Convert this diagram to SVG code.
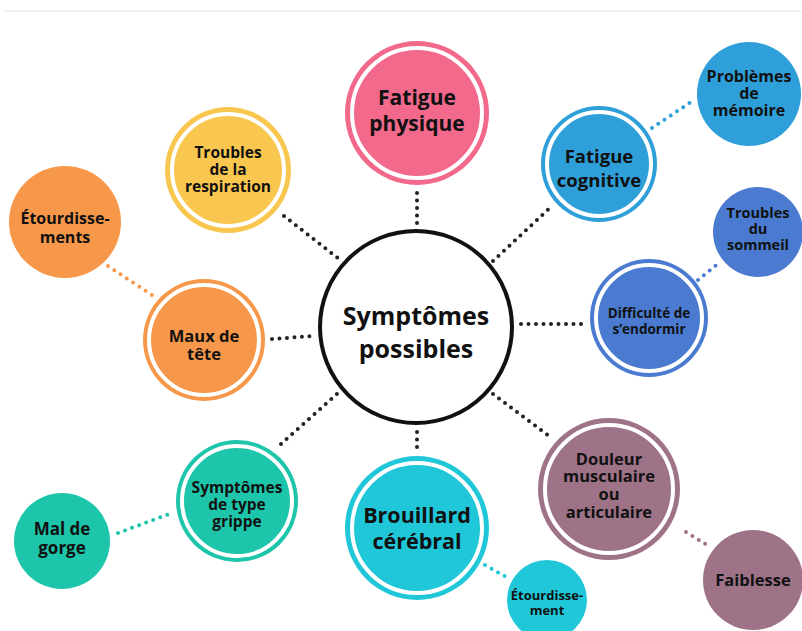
<svg xmlns="http://www.w3.org/2000/svg" width="802" height="631" viewBox="0 0 802 631">
<style>
text{font-family:"Open Sans","Noto Sans","Liberation Sans",sans-serif;font-weight:700;fill:#111;text-anchor:middle}
.ring{fill:none;stroke:#fff;stroke-width:4}
.dot{fill:none;stroke-width:4;stroke-linecap:round;stroke-dasharray:0 7.5}
.k{stroke:#222}
</style>
<rect width="802" height="631" fill="#fff"/>
<line x1="4" y1="11" x2="802" y2="11" stroke="#eeeeee" stroke-width="1.5"/>
<g id="connectors">
<line class="dot k" x1="417" y1="193" x2="417" y2="224"/>
<line class="dot k" x1="417" y1="432" x2="417" y2="453"/>
<line class="dot k" x1="521" y1="324" x2="584" y2="324"/>
<line class="dot k" x1="272" y1="339" x2="313" y2="336"/>
<line class="dot k" x1="284" y1="216" x2="339" y2="259"/>
<line class="dot k" x1="493" y1="261" x2="552" y2="206"/>
<line class="dot k" x1="493" y1="394" x2="553" y2="439"/>
<line class="dot k" x1="281" y1="444" x2="338" y2="393"/>
<line class="dot" stroke="#2F9FDA" x1="652" y1="128" x2="694" y2="100"/>
<line class="dot" stroke="#4A7BD0" x1="698" y1="280" x2="719" y2="263"/>
<line class="dot" stroke="#9E7388" x1="686" y1="532" x2="707" y2="545"/>
<line class="dot" stroke="#1FC7D8" x1="485" y1="565" x2="508" y2="578"/>
<line class="dot" stroke="#1DC5AA" x1="118" y1="533" x2="172" y2="513"/>
<line class="dot" stroke="#F7974A" x1="108" y1="266" x2="155" y2="297"/>
</g>
<g id="center">
<circle cx="416" cy="327" r="96" fill="#fff" stroke="#111" stroke-width="4"/>
<text x="416" y="325" font-size="25">Symptômes</text>
<text x="416" y="358" font-size="25">possibles</text>
</g>
<g id="fatigue-physique">
<circle cx="417" cy="113" r="72" fill="#F2698C"/>
<circle class="ring" cx="417" cy="113" r="65"/>
<text x="417" y="105" font-size="21">Fatigue</text>
<text x="417" y="131" font-size="21">physique</text>
</g>
<g id="fatigue-cognitive">
<circle cx="599" cy="164" r="58" fill="#2F9FDA"/>
<circle class="ring" cx="599" cy="164" r="52"/>
<text x="599" y="163" font-size="18.5">Fatigue</text>
<text x="599" y="187" font-size="18.5">cognitive</text>
</g>
<g id="problemes-memoire">
<circle cx="749" cy="94" r="52" fill="#2F9FDA"/>
<text x="749" y="82" font-size="16">Problèmes</text>
<text x="749" y="99" font-size="16">de</text>
<text x="749" y="116" font-size="16">mémoire</text>
</g>
<g id="troubles-sommeil">
<circle cx="758" cy="232" r="45" fill="#4A7BD0"/>
<text x="758" y="218" font-size="14.5">Troubles</text>
<text x="758" y="234" font-size="14.5">du</text>
<text x="758" y="250" font-size="14.5">sommeil</text>
</g>
<g id="difficulte-endormir">
<circle cx="649" cy="318" r="59" fill="#4A7BD0"/>
<circle class="ring" cx="649" cy="318" r="53"/>
<text x="649" y="318" font-size="13.5">Difficulté de</text>
<text x="649" y="334" font-size="13.5">s’endormir</text>
</g>
<g id="douleur">
<circle cx="609" cy="489" r="71" fill="#9E7388"/>
<circle class="ring" cx="609" cy="489" r="64"/>
<text x="609" y="465" font-size="16.5">Douleur</text>
<text x="609" y="482" font-size="16.5">musculaire</text>
<text x="609" y="500" font-size="16.5">ou</text>
<text x="609" y="518" font-size="16.5">articulaire</text>
</g>
<g id="faiblesse">
<circle cx="753" cy="580" r="50" fill="#9E7388"/>
<text x="753" y="586" font-size="16.5">Faiblesse</text>
</g>
<g id="brouillard">
<circle cx="417" cy="528" r="72" fill="#1FC7D8"/>
<circle class="ring" cx="417" cy="528" r="65"/>
<text x="417" y="523" font-size="21.5">Brouillard</text>
<text x="417" y="549" font-size="21.5">cérébral</text>
</g>
<g id="etourdissement">
<circle cx="547" cy="600" r="40" fill="#1FC7D8"/>
<text x="547" y="600" font-size="13">Étourdisse-</text>
<text x="547" y="615" font-size="13">ment</text>
</g>
<g id="grippe">
<circle cx="237" cy="501" r="61" fill="#1DC5AA"/>
<circle class="ring" cx="237" cy="501" r="55"/>
<text x="237" y="493" font-size="15.5">Symptômes</text>
<text x="237" y="510" font-size="15.5">de type</text>
<text x="237" y="527" font-size="15.5">grippe</text>
</g>
<g id="mal-gorge">
<circle cx="62" cy="541" r="48" fill="#1DC5AA"/>
<text x="62" y="535" font-size="17">Mal de</text>
<text x="62" y="554" font-size="17">gorge</text>
</g>
<g id="maux-tete">
<circle cx="204" cy="340" r="61" fill="#F7974A"/>
<circle class="ring" cx="204" cy="340" r="55"/>
<text x="204" y="342" font-size="16.5">Maux de</text>
<text x="204" y="360" font-size="16.5">tête</text>
</g>
<g id="etourdissements">
<circle cx="65" cy="222" r="56" fill="#F7974A"/>
<text x="65" y="224" font-size="16">Étourdisse-</text>
<text x="65" y="243" font-size="16">ments</text>
</g>
<g id="respiration">
<circle cx="228" cy="170" r="63" fill="#F9C74F"/>
<circle class="ring" cx="228" cy="170" r="56"/>
<text x="228" y="158" font-size="15.5">Troubles</text>
<text x="228" y="175" font-size="15.5">de la</text>
<text x="228" y="192" font-size="15.5">respiration</text>
</g>
</svg>
